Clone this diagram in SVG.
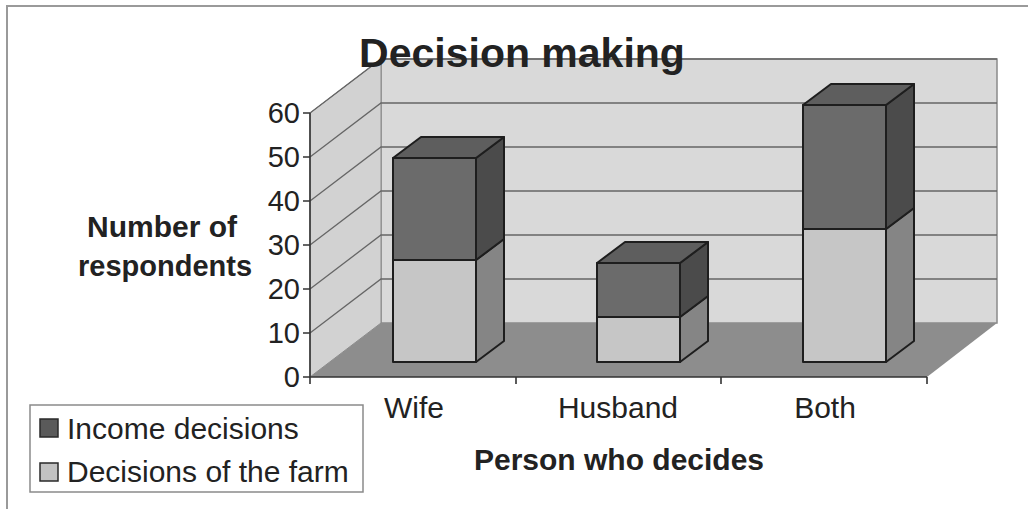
<svg xmlns="http://www.w3.org/2000/svg" width="1028" height="509" viewBox="0 0 1028 509">
<style>
text{font-family:"Liberation Sans",Arial,sans-serif;fill:#222}
.tick{font-size:29px;text-anchor:end}
.cat{font-size:30px;text-anchor:middle}
.lg{font-size:30px}
.b{font-weight:bold}
.grid{stroke:#666;stroke-width:1.3;fill:none}
.ax{stroke:#333;stroke-width:1.6;fill:none}
.edge{stroke:#1e1e1e;stroke-width:2;stroke-linejoin:round}
.inF{fill:#6b6b6b}.inS{fill:#4b4b4b}.inT{fill:#5e5e5e}
.faF{fill:#c6c6c6}.faS{fill:#858585}
</style>
<rect width="1028" height="509" fill="#fff"/>
<g id="frame"><path d="M7,509 V6 H1028" fill="none" stroke="#9a9a9a" stroke-width="2"/></g>
<g id="walls">
<rect x="381" y="59" width="616" height="264" fill="#d9d9d9" stroke="#8a8a8a" stroke-width="1.5"/>
<polygon points="310,113 381,59 381,323 310,377" fill="#d2d2d2" stroke="#8a8a8a" stroke-width="1"/>
</g>
<g id="gridlines" class="grid">
<path d="M310,333 L381,279 H997"/>
<path d="M310,289 L381,235 H997"/>
<path d="M310,245 L381,191 H997"/>
<path d="M310,201 L381,147 H997"/>
<path d="M310,157 L381,103 H997"/>
<path d="M310,113 L381,59 H997"/>
</g>
<g id="floor"><polygon points="310,377 927,377 997,323 381,323" fill="#8d8d8d"/></g>
<g id="axes" class="ax">
<path d="M310,113 V377 H927"/>
<path d="M303,113 H310 M303,157 H310 M303,201 H310 M303,245 H310 M303,289 H310 M303,333 H310 M303,377 H310"/>
<path d="M310,377 V384 M516,377 V384 M721,377 V384 M927,377 V384"/>
</g>
<g id="bar-wife">
<rect class="faF edge" x="393" y="260" width="83" height="102"/>
<polygon class="faS edge" points="476,362 504,341 504,239 476,260"/>
<rect class="inF edge" x="393" y="158" width="83" height="102"/>
<polygon class="inS edge" points="476,260 504,239 504,137 476,158"/>
<polygon class="inT edge" points="393,158 421,137 504,137 476,158"/>
</g>
<g id="bar-husband">
<rect class="faF edge" x="597" y="317" width="83" height="45"/>
<polygon class="faS edge" points="680,362 708,341 708,296 680,317"/>
<rect class="inF edge" x="597" y="263" width="83" height="54"/>
<polygon class="inS edge" points="680,317 708,296 708,242 680,263"/>
<polygon class="inT edge" points="597,263 625,242 708,242 680,263"/>
</g>
<g id="bar-both">
<rect class="faF edge" x="803" y="229" width="83" height="133"/>
<polygon class="faS edge" points="886,362 914,341 914,208 886,229"/>
<rect class="inF edge" x="803" y="105" width="83" height="124"/>
<polygon class="inS edge" points="886,229 914,208 914,84 886,105"/>
<polygon class="inT edge" points="803,105 831,84 914,84 886,105"/>
</g>
<g id="title"><text class="b" x="522" y="67" text-anchor="middle" font-size="41">Decision making</text></g>
<g id="y-ticks">
<text class="tick" x="300" y="123">60</text>
<text class="tick" x="300" y="167">50</text>
<text class="tick" x="300" y="211">40</text>
<text class="tick" x="300" y="255">30</text>
<text class="tick" x="300" y="299">20</text>
<text class="tick" x="300" y="343">10</text>
<text class="tick" x="300" y="387">0</text>
</g>
<g id="y-title">
<text class="b" x="162" y="237" text-anchor="middle" font-size="30">Number of</text>
<text class="b" x="165" y="276" text-anchor="middle" font-size="29">respondents</text>
</g>
<g id="x-labels">
<text class="cat" x="414" y="418">Wife</text>
<text class="cat" x="618" y="418">Husband</text>
<text class="cat" x="825" y="418">Both</text>
</g>
<g id="x-title"><text class="b" x="619" y="470" text-anchor="middle" font-size="30">Person who decides</text></g>
<g id="legend">
<rect x="30" y="405" width="333" height="87" fill="#fff" stroke="#8a8a8a" stroke-width="1.5"/>
<rect x="40" y="419" width="18" height="18" fill="#5a5a5a" stroke="#2a2a2a" stroke-width="1.5"/>
<text class="lg" x="67" y="439">Income decisions</text>
<rect x="40" y="463" width="18" height="18" fill="#c2c2c2" stroke="#2a2a2a" stroke-width="1.5"/>
<text class="lg" x="67" y="482">Decisions of the farm</text>
</g>
</svg>
